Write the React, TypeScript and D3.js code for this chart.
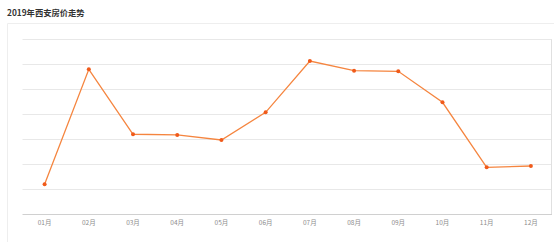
import React from "react";
import * as d3 from "d3";

const months = ["01月", "02月", "03月", "04月", "05月", "06月", "07月", "08月", "09月", "10月", "11月", "12月"];
const prices = [14092, 16386, 15090, 15076, 14976, 15528, 16551, 16358, 16346, 15728, 14431, 14457];
const yTicks = [13500, 14000, 14500, 15000, 15500, 16000, 16500, 17000];
const title = "2019年西安房价走势";

export default function App() {
  const W = 554, H = 242;
  const left = 22.5, right = 552, top = 38.5, bottom = 214;
  const x = d3.scaleBand<string>().domain(months).range([left, 553]);
  const y = d3.scaleLinear().domain([13500, 17000]).range([bottom, top]);
  const cx = (m: string) => (x(m) as number) + x.bandwidth() / 2;
  const line = d3.line<number>().x((_, i) => cx(months[i])).y((d) => y(d));
  const font = "'Noto Sans CJK SC', 'Noto Sans', sans-serif";
  return (
    <svg width={W} height={H} style={{ position: "absolute", left: 0, top: 0 }} fontFamily={font}>
      <rect x={0} y={0} width={W} height={H} fill="#fff" />
      <text x={7} y={16} fontSize={8.3} fontWeight={700} fill="#333">{title}</text>
      <line x1={7.5} x2={W} y1={23.5} y2={23.5} stroke="#eeeeee" />
      <line x1={7.5} x2={7.5} y1={23.5} y2={H} stroke="#eeeeee" />
      {yTicks.slice(1).map((t) => (
        <line key={t} x1={left} x2={right} y1={Math.round(y(t)) + 0.5} y2={Math.round(y(t)) + 0.5} stroke="#e8e8e8" />
      ))}
      <line x1={right - 0.5} x2={right - 0.5} y1={Math.round(y(17000)) + 0.5} y2={bottom} stroke="#e0e0e0" />
      <line x1={left} x2={right} y1={bottom + 0.5} y2={bottom + 0.5} stroke="#d0d0d0" />
      {months.map((m) => (
        <text key={m} x={cx(m)} y={225} fontSize={6.5} fill="#8c8c8c" textAnchor="middle">{m}</text>
      ))}
      <path d={line(prices) || ""} fill="none" stroke="#f5853f" strokeWidth={1.3} />
      {prices.map((p, i) => (
        <circle key={i} cx={cx(months[i])} cy={y(p)} r={2} fill="#f05a1a" />
      ))}
    </svg>
  );
}
